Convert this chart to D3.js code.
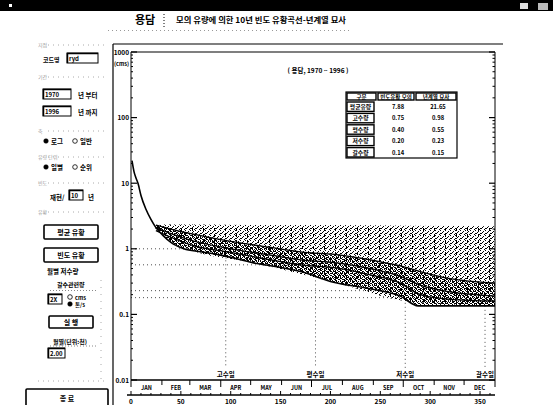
<!DOCTYPE html>
<html><head><meta charset="utf-8">
<script src="https://cdn.jsdelivr.net/npm/d3@7"></script>
<style>
html,body{margin:0;padding:0;background:#fff;}
svg{display:block;font-family:"Noto Sans CJK KR","Noto Sans",sans-serif;}
</style></head>
<body>
<svg id="c" width="553" height="405"></svg>
<script>
// ---- data ----
const mainDays   = [1,3,5,7,10,15,20,25,32,40,53,70,90,123,150,170,203,237,270,288,320,365];
const mainFlow   = [22,15,12,10,6.5,4.0,2.8,2.1,1.6,1.25,1.0,0.9,0.8,0.61,0.52,0.45,0.31,0.25,0.19,0.135,0.135,0.135];
const yearDays   = [25,40,60,100,140,170,210,240,270,290,320,365];
const yearFlowA  = [2.3,2.0,1.7,1.3,1.05,0.9,0.8,0.68,0.55,0.45,0.35,0.30];
const yearFlowB  = [2.1,1.7,1.35,1.0,0.8,0.68,0.6,0.5,0.38,0.28,0.22,0.19];
const yearFlowC  = [1.9,1.5,1.15,0.88,0.68,0.57,0.5,0.4,0.3,0.2,0.17,0.16];
const envDays    = [24,30,60,120,200,280,365];
const envFlow    = [2.0,2.35,2.35,2.3,2.3,2.25,2.2];
const refFlow    = [1.0,0.57,0.23,0.18];
const refEndDay  = [95,185,275,275];
const markDays   = [95,185,275,355];
const markLabels = ["고수일","평수일","저수일","갈수일"];
const months     = ["JAN","FEB","MAR","APR","MAY","JUN","JUL","AUG","SEP","OCT","NOV","DEC"];
const monthEnds  = [0,31,59,90,120,151,181,212,243,273,304,334,365];
const dayTicks   = [0,50,100,150,200,250,300,350];
const yTickVals  = [1000,100,10,1,0.1,0.01];
const yTickLabels= ["1000","100","10","1","0.1","0.01"];
const rowNames   = ["평균유량","고수량","평수량","저수량","갈수량"];
const colNames   = ["구분","빈도유황 모의","년계열 묘사"];
const colSim     = ["7.88","0.75","0.40","0.20","0.14"];
const colObs     = ["21.65","0.98","0.55","0.23","0.15"];

const svg = d3.select("#c");
const x = d3.scaleLinear().domain([0,365]).range([131,495]);
const y = d3.scaleLog().domain([0.01,1000]).range([380,52]);

// patterns
const defs = svg.append("defs");
const p1 = defs.append("pattern").attr("id","st1").attr("width",5).attr("height",5).attr("patternUnits","userSpaceOnUse");
[[0,0],[3,1],[1,3],[4,4],[2,2],[0,3]].forEach(d=>p1.append("rect").attr("x",d[0]).attr("y",d[1]).attr("width",1).attr("height",1).attr("fill","#000"));
const p2 = defs.append("pattern").attr("id","st2").attr("width",4).attr("height",4).attr("patternUnits","userSpaceOnUse");
[[0,0],[2,1],[1,2],[3,3],[2,3],[0,1]].forEach(d=>p2.append("rect").attr("x",d[0]).attr("y",d[1]).attr("width",1).attr("height",1).attr("fill","#000"));
const p3 = defs.append("pattern").attr("id","st3").attr("width",11).attr("height",6).attr("patternUnits","userSpaceOnUse");
p3.append("rect").attr("x",5).attr("y",0).attr("width",1).attr("height",3).attr("fill","#000");

// ---- window title bar ----
svg.append("rect").attr("x",0).attr("y",0).attr("width",553).attr("height",11).attr("fill","#000");
svg.append("rect").attr("x",9).attr("y",4).attr("width",3).attr("height",3).attr("fill","#fff");
svg.append("rect").attr("x",520).attr("y",3).attr("width",8).attr("height",6).attr("fill","#ddd");
svg.append("rect").attr("x",538).attr("y",3).attr("width",10).attr("height",7).attr("fill","#bbb");

// ---- header ----
svg.append("text").attr("x",145).attr("y",24).attr("text-anchor","middle").attr("font-size",11).attr("font-weight","bold").text("용담");
svg.append("line").attr("x1",164).attr("x2",164).attr("y1",14).attr("y2",27).attr("stroke","#000").attr("stroke-dasharray","1,2");
svg.append("text").attr("x",176).attr("y",23).attr("font-size",8).attr("font-weight","bold")
  .attr("textLength",170).attr("lengthAdjust","spacingAndGlyphs").text("모의 유량에 의한 10년 빈도 유황곡선-년계열 묘사");
svg.append("line").attr("x1",108).attr("x2",350).attr("y1",30.5).attr("y2",30.5).attr("stroke","#999").attr("stroke-dasharray","1,3");

// ---- left control panel ----
const L = svg.append("g").attr("font-weight","bold").attr("font-size",6.5);
function faint(yy,label){
  L.append("text").attr("x",38).attr("y",yy+2).attr("font-size",5).attr("fill","#999").attr("font-weight","normal").text(label);
  L.append("line").attr("x1",48).attr("x2",105).attr("y1",yy).attr("y2",yy).attr("stroke","#aaa").attr("stroke-dasharray","1,4");
}
function box(x0,y0,w,h,t){
  L.append("rect").attr("x",x0).attr("y",y0).attr("width",w).attr("height",h).attr("fill","#fff").attr("stroke","#000");
  L.append("line").attr("x1",x0).attr("x2",x0+w).attr("y1",y0+0.5).attr("y2",y0+0.5).attr("stroke","#000").attr("stroke-width",1.5);
  L.append("line").attr("x1",x0+0.5).attr("x2",x0+0.5).attr("y1",y0).attr("y2",y0+h).attr("stroke","#000").attr("stroke-width",1.5);
  L.append("text").attr("x",x0+2).attr("y",y0+h-2).attr("font-size",6).text(t);
}
function button(x0,y0,w,h,t){
  L.append("rect").attr("x",x0).attr("y",y0).attr("width",w).attr("height",h).attr("rx",1).attr("fill","#fff").attr("stroke","#000").attr("stroke-width",1.6);
  L.append("text").attr("x",x0+w/2).attr("y",y0+h/2+2.5).attr("text-anchor","middle").attr("font-size",7).text(t);
}
function radio(x0,yy,on,t,fs){
  L.append("circle").attr("cx",x0).attr("cy",yy-2).attr("r",2.3).attr("fill",on?"#000":"#fff").attr("stroke","#000").attr("stroke-width",on?0.5:0.8);
  L.append("text").attr("x",x0+5).attr("y",yy+0.5).attr("font-size",fs||6.5).text(t);
}
faint(45,"지점");
L.append("text").attr("x",43).attr("y",62).attr("font-size",6).text("코드명");
box(67,53,31,10,"ryd");
faint(77,"기간");
box(43,89,28,10,"1970");
L.append("text").attr("x",78).attr("y",98).text("년 부터");
box(43,106,28,10,"1996");
L.append("text").attr("x",78).attr("y",115).text("년 까지");
faint(131,"축");
radio(46,143,true,"로그");
radio(75,143,false,"일반");
faint(157,"유량 단위");
radio(46,169,true,"일별");
radio(75,169,false,"순위");
faint(183,"빈도");
L.append("text").attr("x",50).attr("y",200).text("재현/");
box(69,190,14,10,"10");
L.append("text").attr("x",88).attr("y",200).text("년");
faint(212,"유황");
button(44,225,54,14,"평균 유황");
button(44,248,54,14,"빈도 유황");
L.append("text").attr("x",47).attr("y",274).text("월별 저수량");
L.append("text").attr("x",57).attr("y",287).attr("font-size",6).text("갈수관련량");
L.append("line").attr("x1",50).attr("x2",98).attr("y1",290.5).attr("y2",290.5).attr("stroke","#888").attr("stroke-dasharray","1,2");
box(48,294,14,10,"2X");
radio(70,299,false,"cms",5.5);
radio(70,306,true,"톤/s",5.5);
button(49,316,44,12,"실 행");
L.append("text").attr("x",53).attr("y",344).attr("font-size",6).text("월별(단위:천)");
L.append("line").attr("x1",50).attr("x2",98).attr("y1",346).attr("y2",346).attr("stroke","#888").attr("stroke-dasharray","1,2");
box(48,348,17,10,"2.00");
L.append("line").attr("x1",38).attr("x2",105).attr("y1",381).attr("y2",381).attr("stroke","#aaa").attr("stroke-dasharray","1,4");
button(26,389,82,18,"종 료");
L.append("line").attr("x1",101).attr("x2",101).attr("y1",280).attr("y2",380).attr("stroke","#aaa").attr("stroke-dasharray","1,6");

// ---- plot frame ----
svg.append("line").attr("x1",113).attr("x2",113).attr("y1",44).attr("y2",405).attr("stroke","#000").attr("stroke-width",1.2);
svg.append("line").attr("x1",113).attr("x2",503).attr("y1",44).attr("y2",44).attr("stroke","#000").attr("stroke-width",1.2);
svg.append("line").attr("x1",131).attr("x2",495).attr("y1",y(1000)).attr("y2",y(1000)).attr("stroke","#000").attr("stroke-width",1.2);
svg.append("line").attr("x1",x(0)).attr("x2",x(0)).attr("y1",y(1000)).attr("y2",y(0.01)).attr("stroke","#000");
svg.append("line").attr("x1",x(365)).attr("x2",x(365)).attr("y1",y(1000)).attr("y2",y(0.01)).attr("stroke","#000");

// y ticks (left + right, mirrored)
const ax = svg.append("g");
for(let e=-2;e<3;e++){
  for(let m=2;m<10;m++){
    const v=m*Math.pow(10,e), yy=y(v);
    ax.append("line").attr("x1",x(0)).attr("x2",x(0)+2).attr("y1",yy).attr("y2",yy).attr("stroke","#000");
    ax.append("line").attr("x1",x(365)).attr("x2",x(365)-2.5).attr("y1",yy).attr("y2",yy).attr("stroke","#000");
  }
}
yTickVals.forEach((v,i)=>{
  const yy=y(v);
  ax.append("line").attr("x1",x(0)).attr("x2",x(0)+6).attr("y1",yy).attr("y2",yy).attr("stroke","#000").attr("stroke-width",1.2);
  ax.append("line").attr("x1",x(365)).attr("x2",x(365)-6).attr("y1",yy).attr("y2",yy).attr("stroke","#000").attr("stroke-width",1.2);
  ax.append("text").attr("x",x(0)-2).attr("y",yy+2.5).attr("text-anchor","end").attr("font-size",6.5).attr("font-weight","bold").text(yTickLabels[i]);
});
ax.append("text").attr("x",x(0)-2).attr("y",y(1000)+14).attr("text-anchor","end").attr("font-size",5.5).attr("font-weight","bold").text("(cms)");

// subtitle
svg.append("text").attr("x",318).attr("y",73).attr("text-anchor","middle").attr("font-size",6.5).attr("font-weight","bold").text("( 용담, 1970 ~ 1996 )");

// ---- stipple cloud ----
const areaEnv = d3.area().x(d=>x(d[0])).y0(d=>y(d[2])).y1(d=>y(d[1])).curve(d3.curveMonotoneX);
const interpMain = d=>{
  for(let i=1;i<mainDays.length;i++){ if(d<=mainDays[i]){const t=(d-mainDays[i-1])/(mainDays[i]-mainDays[i-1]);return Math.exp(Math.log(mainFlow[i-1])*(1-t)+Math.log(mainFlow[i])*t);} }
  return mainFlow[mainFlow.length-1];
};
const envPts = envDays.map((d,i)=>[d,envFlow[i],interpMain(d)]);
svg.append("path").datum(envPts).attr("d",areaEnv).attr("fill","url(#st1)");
svg.append("path").datum(envPts).attr("d",areaEnv).attr("fill","url(#st3)");
const bandPts = yearDays.map((d,i)=>[d,yearFlowA[i],interpMain(d)]);
svg.append("path").datum(bandPts).attr("d",areaEnv).attr("fill","url(#st2)");

// ---- reference dotted lines ----
refFlow.forEach((v,i)=>{
  svg.append("line").attr("x1",x(0)).attr("x2",x(refEndDay[i])).attr("y1",y(v)).attr("y2",y(v))
    .attr("stroke","#000").attr("stroke-width",0.7).attr("stroke-dasharray","1,3");
});
markDays.forEach((d,i)=>{
  svg.append("line").attr("x1",x(d)).attr("x2",x(d)).attr("y1",y(interpMain(d))).attr("y2",368)
    .attr("stroke","#000").attr("stroke-width",0.7).attr("stroke-dasharray","1,3");
  svg.append("text").attr("x",x(d)).attr("y",377).attr("text-anchor","middle").attr("font-size",6.5).attr("font-weight","bold").text(markLabels[i]);
});

// ---- curves ----
const line = d3.line().x(d=>x(d[0])).y(d=>y(d[1])).curve(d3.curveMonotoneX);
[yearFlowA,yearFlowB,yearFlowC].forEach(arr=>{
  svg.append("path").datum(yearDays.map((d,i)=>[d,arr[i]])).attr("d",line).attr("fill","none").attr("stroke","#000").attr("stroke-width",1.3);
});
svg.append("path").datum(mainDays.map((d,i)=>[d,mainFlow[i]])).attr("d",line).attr("fill","none").attr("stroke","#000").attr("stroke-width",1.6);

// ---- table ----
const T = svg.append("g").attr("font-weight","bold");
const tx=[346,377,415,457], ty0=92, th=9, rh=11.4;
T.append("rect").attr("x",tx[0]).attr("y",ty0).attr("width",tx[3]-tx[0]).attr("height",th+rh*5).attr("fill","#fff").attr("stroke","#000").attr("stroke-width",1.2);
colNames.forEach((c,j)=>{
  T.append("rect").attr("x",tx[j]+1).attr("y",ty0+1).attr("width",tx[j+1]-tx[j]-2).attr("height",th-2).attr("fill","#fff").attr("stroke","#000").attr("stroke-width",1.4);
  T.append("text").attr("x",(tx[j]+tx[j+1])/2).attr("y",ty0+th-2).attr("text-anchor","middle").attr("font-size",5.5).text(c);
});
rowNames.forEach((r,i)=>{
  const yy=ty0+th+rh*i;
  T.append("rect").attr("x",tx[0]+1).attr("y",yy+1).attr("width",tx[1]-tx[0]-4).attr("height",rh-2).attr("fill","#fff").attr("stroke","#000").attr("stroke-width",1.4);
  T.append("text").attr("x",(tx[0]+tx[1])/2-1).attr("y",yy+rh/2+2.2).attr("text-anchor","middle").attr("font-size",5.8).text(r);
  T.append("text").attr("x",398).attr("y",yy+rh/2+2.2).attr("text-anchor","middle").attr("font-size",5.8).text(colSim[i]);
  T.append("text").attr("x",438).attr("y",yy+rh/2+2.2).attr("text-anchor","middle").attr("font-size",5.8).text(colObs[i]);
});

// ---- x axes (month + day) ----
const X = svg.append("g");
X.append("line").attr("x1",x(0)).attr("x2",x(365)).attr("y1",y(0.01)).attr("y2",y(0.01)).attr("stroke","#000").attr("stroke-width",1.4);
monthEnds.forEach((d,i)=>{
  X.append("line").attr("x1",x(d)).attr("x2",x(d)).attr("y1",y(0.01)).attr("y2",y(0.01)+(i%3===0?7:5)).attr("stroke","#000");
});
months.forEach((m,i)=>{
  X.append("text").attr("x",x((monthEnds[i]+monthEnds[i+1])/2)).attr("y",390).attr("text-anchor","middle").attr("font-size",5.5).attr("font-weight","bold").text(m);
});
X.append("line").attr("x1",x(0)-4).attr("x2",x(365)).attr("y1",395).attr("y2",395).attr("stroke","#000").attr("stroke-width",1.4);
for(let d=0; d<=360; d+=10){
  X.append("line").attr("x1",x(d)).attr("x2",x(d)).attr("y1",395).attr("y2",d%50===0?391:393).attr("stroke","#000");
}
dayTicks.forEach(d=>{
  X.append("text").attr("x",x(d)).attr("y",404).attr("text-anchor","middle").attr("font-size",6.5).attr("font-weight","bold").text(d);
});
</script>
</body></html>
